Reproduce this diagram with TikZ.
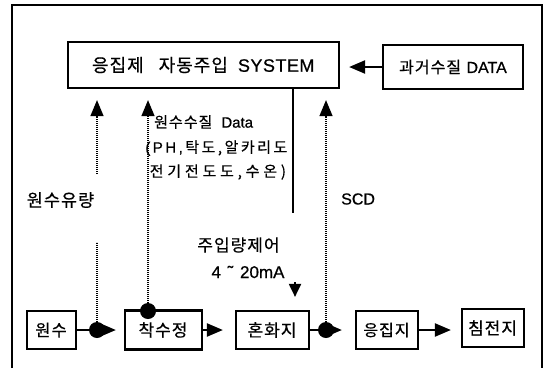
\documentclass[tikz,border=0pt]{standalone}
\usepackage{fontspec}
\setmainfont{Liberation Sans}[FakeBold=0.7]
\newfontfamily\kr{Noto Sans CJK KR}[FakeBold=0.5]
\usetikzlibrary{arrows.meta}
\makeatletter
\def\trk@stop{\trk@stop}
\newcommand\trk[2]{\def\trk@k{#1}\trk@go#2\trk@stop}
\def\trk@go#1{\ifx\trk@stop#1\else#1\kern\trk@k\relax\expandafter\trk@go\fi}
\makeatother
\newcommand\K[2][1pt]{{\kr\trk{#1}{#2}}}
\newcommand\fsz[1]{\fontsize{#1pt}{#1pt}\selectfont}
\tikzset{
  box/.style={draw, line width=2.2pt, inner sep=0pt, font=\fsz{17}},
  flow/.style={line width=2.2pt, -{Triangle[length=16pt,width=13pt]}},
  sig/.style={line width=1.3pt, dash pattern=on 1.2pt off 0.8pt},
  sigarrow/.style={sig, -{Triangle[length=16pt,width=13pt]}},
  junction/.style={circle, fill, inner sep=0pt, minimum size=16pt},
  lbl/.style={inner sep=0pt, font=\fsz{17}},
  small/.style={inner sep=0pt, font=\fsz{15}},
}
\begin{document}
\begin{tikzpicture}[x=1pt,y=-1pt]
\useasboundingbox (0,0) rectangle (548,368);
% frame
\draw[line width=1.6pt] (12,368) -- (12,5) -- (542,5) -- (542,368);
% top boxes
\node[box, font=\fsz{18}, minimum width=271pt, minimum height=46pt] (sys) at (203.5,65) {\K{응집제}\hspace{14pt}\K{자동주입}\hspace{4pt} \trk{0.5pt}{SYSTEM}};
\node[box, font=\fsz{16}, minimum width=140pt, minimum height=44pt] (past) at (453,67) {\K{과거수질} DATA};
\draw[flow, shorten >=9pt] (past.west) -- (sys.east |- past.west);
% bottom boxes
\node[box, font=\fsz{16.5}, minimum width=49pt, minimum height=38pt] (won) at (51.5,330) {\K{원수}};
\node[box, minimum width=77pt, minimum height=39pt] (chak) at (163.5,330) {\K{착수정}};
\node[box, minimum width=73pt, minimum height=38pt] (hon) at (272.5,330) {\K{혼화지}};
\node[box, font=\fsz{16}, minimum width=62pt, minimum height=38pt] (eung) at (387,330) {\K{응집지}};
\node[box, minimum width=62pt, minimum height=38pt] (chim) at (493,328) {\K{침전지}};
% flow arrows
\draw[flow, shorten >=8pt] (won.east) -- (chak.west |- won.east);
\draw[flow, shorten >=12pt] (chak.east) -- (hon.west |- chak.east);
\draw[flow, shorten >=13pt] (hon.east) -- (eung.west |- hon.east);
\draw[flow, shorten >=10pt] (eung.east) -- (chim.west |- eung.east);
% junction dots
\node[junction] (d1) at (97,330) {};
\node[junction] (d2) at (148,311) {};
\node[junction] (d3) at (326,330) {};
% dotted signal lines
\coordinate (g1) at (97,242);
\coordinate (g2) at (97,174);
\draw[sig] (d1.center) -- (g1);
\draw[sigarrow, shorten >=11pt] (g2) -- (g2 |- sys.south);
\draw[sigarrow, shorten >=11pt] (d2.center) -- (d2 |- sys.south);
\draw[sigarrow, shorten >=11pt] (d3.center) -- (d3 |- sys.south);
% control output
\coordinate (c1) at (293,213);
\draw[line width=2pt] (sys.south -| c1) -- (c1);
\coordinate (c2) at (295,282);
\draw[line width=2pt, -{Triangle[length=13pt,width=12pt]}, shorten >=13pt] (c2) -- (c2 |- hon.north);
% labels
\node[small, anchor=west] (t1) at (154,122) {\K{원수수질}\hspace{8pt}Data};
\node[small, anchor=east] (t2) at (290,148) {\trk{2.5pt}{(PH,}\K[2.5pt]{탁도,알카리도}};
\node[small, anchor=east] (t3) at (290,172) {\K[3.8pt]{전기전도도,수온)}};
\node[lbl, font=\fsz{17.5}] (t4) at (61,200) {\K{원수유량}};
\node[lbl, font=\fsz{16}, anchor=west] (t5) at (341,199) {SCD};
\node[lbl] (t6) at (239,245) {\K{주입량제어}};
\node[lbl, font=\fsz{17}] (t7) at (248,272) {4\hspace{2pt} ˜\hspace{2pt} 20mA};
\end{tikzpicture}
\end{document}
